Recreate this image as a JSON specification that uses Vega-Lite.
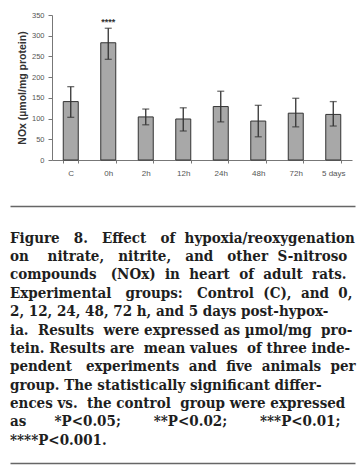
{
  "$schema": "https://vega.github.io/schema/vega-lite/v6.json",
  "padding": {"left": 7, "top": 11, "right": 5, "bottom": 3},
  "background": "white",
  "bounds": "flush",
  "spacing": 46,
  "config": {"view": {"stroke": null}},
  "vconcat": [
    {
      "width": 300,
      "height": 145,
      "data": {"values": [
        {"group": "C", "mean": 141, "lo": 103, "hi": 177, "sig": ""},
        {"group": "0h", "mean": 283, "lo": 243, "hi": 318, "sig": "****"},
        {"group": "2h", "mean": 104, "lo": 85, "hi": 123, "sig": ""},
        {"group": "12h", "mean": 99, "lo": 70, "hi": 126, "sig": ""},
        {"group": "24h", "mean": 129, "lo": 92, "hi": 166, "sig": ""},
        {"group": "48h", "mean": 94, "lo": 56, "hi": 132, "sig": ""},
        {"group": "72h", "mean": 113, "lo": 80, "hi": 149, "sig": ""},
        {"group": "5 days", "mean": 110, "lo": 82, "hi": 141, "sig": ""}
      ]},
      "encoding": {
        "x": {"field": "group", "type": "nominal", "sort": null,
          "scale": {"paddingInner": 0.6, "paddingOuter": 0.3},
          "axis": {"title": null, "labelAngle": 0, "tickBand": "extent", "tickSize": 3, "tickColor": "#777", "domainColor": "#777", "labelColor": "#555", "labelFont": "Liberation Sans", "labelFontSize": 8, "labelPadding": 6}}
      },
      "layer": [
        {
          "mark": {"type": "bar", "fill": "#a8a8a8", "stroke": "#333", "strokeWidth": 1},
          "encoding": {
            "y": {"field": "mean", "type": "quantitative", "scale": {"domain": [0, 350], "nice": false},
              "axis": {"title": "NOx (µmol/mg protein)", "values": [0, 50, 100, 150, 200, 250, 300, 350], "labelOverlap": false, "grid": false, "tickSize": 4, "tickColor": "#777", "domainColor": "#777", "labelColor": "#555", "labelFont": "Liberation Sans", "labelFontSize": 7.5, "labelPadding": 4, "titleFont": "Liberation Sans", "titleFontSize": 10.5, "titleFontWeight": "bold", "titleColor": "#333", "titlePadding": 4}}
          }
        },
        {
          "mark": {"type": "rule", "color": "#333", "strokeWidth": 1.3},
          "encoding": {"y": {"field": "lo", "type": "quantitative", "scale": {"domain": [0, 350], "nice": false},
              "axis": {"title": "NOx (µmol/mg protein)", "values": [0, 50, 100, 150, 200, 250, 300, 350], "labelOverlap": false, "grid": false, "tickSize": 4, "tickColor": "#777", "domainColor": "#777", "labelColor": "#555", "labelFont": "Liberation Sans", "labelFontSize": 7.5, "labelPadding": 4, "titleFont": "Liberation Sans", "titleFontSize": 10.5, "titleFontWeight": "bold", "titleColor": "#333", "titlePadding": 4}},
            "y2": {"field": "hi"}}
        },
        {
          "mark": {"type": "tick", "color": "#333", "thickness": 1.3, "size": 7, "orient": "horizontal"},
          "encoding": {"y": {"field": "lo", "type": "quantitative", "scale": {"domain": [0, 350], "nice": false},
              "axis": {"title": "NOx (µmol/mg protein)", "values": [0, 50, 100, 150, 200, 250, 300, 350], "labelOverlap": false, "grid": false, "tickSize": 4, "tickColor": "#777", "domainColor": "#777", "labelColor": "#555", "labelFont": "Liberation Sans", "labelFontSize": 7.5, "labelPadding": 4, "titleFont": "Liberation Sans", "titleFontSize": 10.5, "titleFontWeight": "bold", "titleColor": "#333", "titlePadding": 4}}}
        },
        {
          "mark": {"type": "tick", "color": "#333", "thickness": 1.3, "size": 7, "orient": "horizontal"},
          "encoding": {"y": {"field": "hi", "type": "quantitative", "scale": {"domain": [0, 350], "nice": false},
              "axis": {"title": "NOx (µmol/mg protein)", "values": [0, 50, 100, 150, 200, 250, 300, 350], "labelOverlap": false, "grid": false, "tickSize": 4, "tickColor": "#777", "domainColor": "#777", "labelColor": "#555", "labelFont": "Liberation Sans", "labelFontSize": 7.5, "labelPadding": 4, "titleFont": "Liberation Sans", "titleFontSize": 10.5, "titleFontWeight": "bold", "titleColor": "#333", "titlePadding": 4}}}
        },
        {
          "mark": {"type": "text", "baseline": "bottom", "dy": -1, "font": "Liberation Sans", "fontSize": 9, "fontWeight": "bold", "color": "#333"},
          "encoding": {"y": {"field": "hi", "type": "quantitative", "scale": {"domain": [0, 350], "nice": false},
              "axis": {"title": "NOx (µmol/mg protein)", "values": [0, 50, 100, 150, 200, 250, 300, 350], "labelOverlap": false, "grid": false, "tickSize": 4, "tickColor": "#777", "domainColor": "#777", "labelColor": "#555", "labelFont": "Liberation Sans", "labelFontSize": 7.5, "labelPadding": 4, "titleFont": "Liberation Sans", "titleFontSize": 10.5, "titleFontWeight": "bold", "titleColor": "#333", "titlePadding": 4}},
            "text": {"field": "sig"}}
        }
      ]
    },
    {
      "width": 300,
      "height": 257,
      "data": {"values": [
        {"line": 1, "col": 0, "text": "Figure\u00a0\u00a0\u00a08.\u00a0\u00a0\u00a0Effect\u00a0\u00a0\u00a0of\u00a0\u00a0hypoxia/reoxygenation"},
        {"line": 2, "col": 0, "text": "on\u00a0\u00a0\u00a0\u00a0nitrate,\u00a0\u00a0\u00a0nitrite,\u00a0\u00a0\u00a0and\u00a0\u00a0\u00a0other\u00a0\u00a0S-nitroso"},
        {"line": 3, "col": 0, "text": "compounds\u00a0\u00a0\u00a0(NOx)\u00a0\u00a0in\u00a0\u00a0heart\u00a0\u00a0of\u00a0\u00a0adult\u00a0\u00a0rats."},
        {"line": 4, "col": 0, "text": "Experimental\u00a0\u00a0\u00a0groups:\u00a0\u00a0\u00a0Control\u00a0\u00a0(C),\u00a0\u00a0and\u00a0\u00a00,"},
        {"line": 5, "col": 0, "text": "2, 12, 24, 48, 72 h, and 5 days post-hypox-"},
        {"line": 6, "col": 0, "text": "ia.\u00a0\u00a0Results\u00a0\u00a0were expressed as µmol/mg\u00a0\u00a0pro-"},
        {"line": 7, "col": 0, "text": "tein. Results are\u00a0\u00a0mean values\u00a0\u00a0of three inde-"},
        {"line": 8, "col": 0, "text": "pendent\u00a0\u00a0\u00a0experiments\u00a0\u00a0and\u00a0\u00a0five\u00a0\u00a0animals\u00a0\u00a0per"},
        {"line": 9, "col": 0, "text": "group. The statistically significant differ-"},
        {"line": 10, "col": 0, "text": "ences vs.\u00a0\u00a0the control\u00a0\u00a0group were expressed"},
        {"line": 11, "col": 0, "text": "as\u00a0\u00a0\u00a0\u00a0\u00a0\u00a0*P<0.05;\u00a0\u00a0\u00a0\u00a0\u00a0\u00a0\u00a0**P<0.02;\u00a0\u00a0\u00a0\u00a0\u00a0\u00a0\u00a0***P<0.01;"},
        {"line": 12, "col": 0, "text": "****P<0.001."}
      ]},
      "layer": [
        {
          "mark": {"type": "text", "align": "left", "baseline": "alphabetic", "font": "DejaVu Serif Condensed, Liberation Serif", "fontSize": 15, "fontWeight": "bold", "color": "#1e1e1e"},
          "encoding": {
            "x": {"field": "col", "type": "quantitative", "scale": {"domain": [0, 1], "range": [-42, 303]},
              "axis": {"orient": "top", "ticks": false, "labels": false, "grid": false, "title": null, "domainColor": "#666", "domainWidth": 1.3}},
            "y": {"field": "line", "type": "quantitative", "scale": {"domain": [-0.28, 12.63], "reverse": true}, "axis": null},
            "text": {"field": "text"}
          }
        },
        {
          "mark": {"type": "point", "opacity": 0},
          "encoding": {
            "x": {"field": "col", "type": "quantitative",
              "axis": {"orient": "bottom", "ticks": false, "labels": false, "grid": false, "title": null, "domainColor": "#666", "domainWidth": 1.3}},
            "y": {"field": "line", "type": "quantitative", "axis": null}
          }
        }
      ],
      "resolve": {"axis": {"x": "independent"}}
    }
  ]
}
